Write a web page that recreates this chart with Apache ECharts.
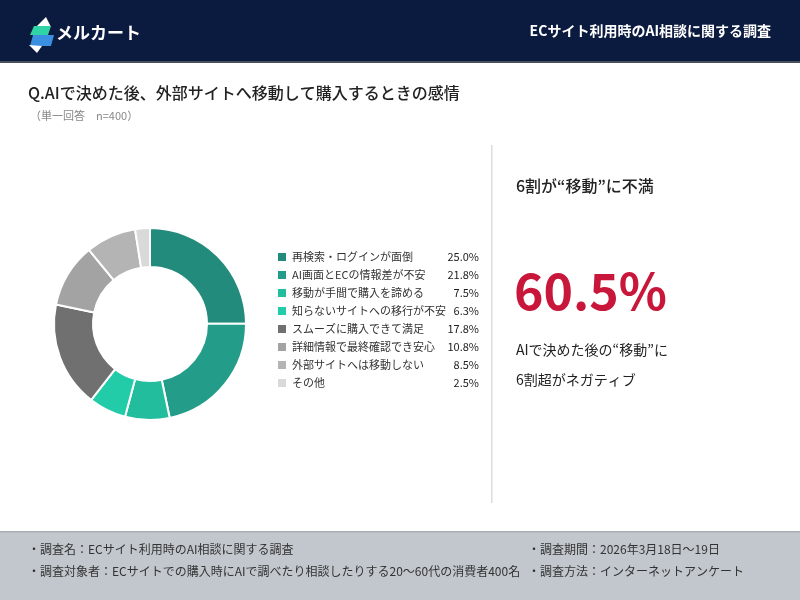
<!DOCTYPE html>
<html>
<head>
<meta charset="utf-8">
<script src="https://cdn.jsdelivr.net/npm/echarts@6/dist/echarts.min.js"></script>
<style>
  html, body { margin: 0; padding: 0; background: #fff; }
  #container { width: 800px; height: 600px; }
</style>
</head>
<body>
<div id="container"></div>
<script>
var categories = [
    '再検索・ログインが面倒',
    'AI画面とECの情報差が不安',
    '移動が手間で購入を諦める',
    '知らないサイトへの移行が不安',
    'スムーズに購入できて満足',
    '詳細情報で最終確認でき安心',
    '外部サイトへは移動しない',
    'その他'
];
var values = [25.0, 21.8, 7.5, 6.3, 17.8, 10.8, 8.5, 2.5];
var sliceColors = ['#238b7c', '#239d89', '#22bd9d', '#22cca9', '#707070', '#a3a3a3', '#b4b4b4', '#d9d9d9'];

var footerLeft = [
    '・調査名：ECサイト利用時のAI相談に関する調査',
    '・調査対象者：ECサイトでの購入時にAIで調べたり相談したりする20～60代の消費者400名'
];
var footerRight = [
    '・調査期間：2026年3月18日～19日',
    '・調査方法：インターネットアンケート'
];

(function() {
    var font = '"Noto Sans CJK JP", "Noto Sans", sans-serif';
    var myChart = echarts.init(document.getElementById('container'));

    var pieData = categories.map(function(name, i) {
        return { name: name, value: values[i], itemStyle: { color: sliceColors[i] } };
    });

    var graphics = [
        // header band
        { type: 'rect', shape: { x: 0, y: 0, width: 800, height: 61 }, style: { fill: '#0b1a3f' } },
        { type: 'rect', shape: { x: 0, y: 61, width: 800, height: 2 }, style: { fill: '#4a4f5c' } },
        // logo
        { type: 'polygon', shape: { points: [[46, 17], [36, 27], [51, 27]] }, style: { fill: '#ffffff' } },
        { type: 'polygon', shape: { points: [[34, 26], [51, 26], [48, 35], [30, 35]] }, style: { fill: '#2fd3a5' } },
        { type: 'polygon', shape: { points: [[33, 35], [54, 35], [51, 46], [30, 46]] }, style: { fill: '#3a8fe0' } },
        { type: 'polygon', shape: { points: [[29, 45], [42, 46], [37, 53]] }, style: { fill: '#ffffff' } },
        { type: 'text', left: 56, top: 24, style: { text: 'メルカート', fill: '#fff', font: 'bold 17px ' + font } },
        { type: 'text', right: 29, top: 24, style: { text: 'ECサイト利用時のAI相談に関する調査', fill: '#fff', font: 'bold 14px ' + font } },
        // question
        { type: 'text', left: 28, top: 85, style: { text: 'Q.AIで決めた後、外部サイトへ移動して購入するときの感情', fill: '#222', font: '500 16px ' + font } },
        { type: 'text', left: 30, top: 110, style: { text: '（単一回答　n=400）', fill: '#888', font: '11px ' + font } },
        // divider
        { type: 'rect', shape: { x: 491, y: 145, width: 1.5, height: 358 }, style: { fill: '#dddddd' } },
        // right panel
        { type: 'text', left: 516, top: 178, style: { text: '6割が“移動”に不満', fill: '#222', font: '500 16px ' + font } },
        { type: 'text', left: 514, top: 266, style: { text: '60.5%', fill: '#c8173a', font: 'bold 50px ' + font } },
        { type: 'text', left: 516, top: 343, style: { text: 'AIで決めた後の“移動”に', fill: '#222', font: '14px ' + font } },
        { type: 'text', left: 516, top: 373, style: { text: '6割超がネガティブ', fill: '#222', font: '14px ' + font } },
        // footer
        { type: 'rect', shape: { x: 0, y: 532, width: 800, height: 68 }, style: { fill: '#c2c7cd' } },
        { type: 'rect', shape: { x: 0, y: 531, width: 800, height: 1.5 }, style: { fill: '#a9aeb5' } }
    ];
    footerLeft.forEach(function(t, i) {
        graphics.push({ type: 'text', left: 28, top: 543 + i * 22, style: { text: t, fill: '#333', font: '12px ' + font } });
    });
    footerRight.forEach(function(t, i) {
        graphics.push({ type: 'text', left: 528, top: 543 + i * 22, style: { text: t, fill: '#333', font: '12px ' + font } });
    });

    myChart.setOption({
        animation: false,
        backgroundColor: '#ffffff',
        textStyle: { fontFamily: font },
        graphic: graphics,
        legend: {
            orient: 'vertical',
            left: 271,
            top: 245,
            icon: 'rect',
            itemWidth: 10,
            itemHeight: 10,
            itemGap: 4,
            selectedMode: false,
            data: categories,
            formatter: function(name) {
                var i = categories.indexOf(name);
                return '{n|' + name + '}{v|' + values[i].toFixed(1) + '%}';
            },
            textStyle: {
                color: '#333',
                fontSize: 11,
                lineHeight: 14,
                rich: {
                    n: { width: 147, fontSize: 11, color: '#333', fontFamily: font },
                    v: { width: 40, align: 'right', fontSize: 11, color: '#222', fontFamily: font }
                }
            }
        },
        series: [{
            type: 'pie',
            center: [150, 324],
            radius: [57, 96],
            startAngle: 90,
            clockwise: true,
            label: { show: false },
            labelLine: { show: false },
            emphasis: { disabled: true },
            itemStyle: { borderColor: '#ffffff', borderWidth: 2 },
            data: pieData
        }]
    });
})();
</script>
</body>
</html>
